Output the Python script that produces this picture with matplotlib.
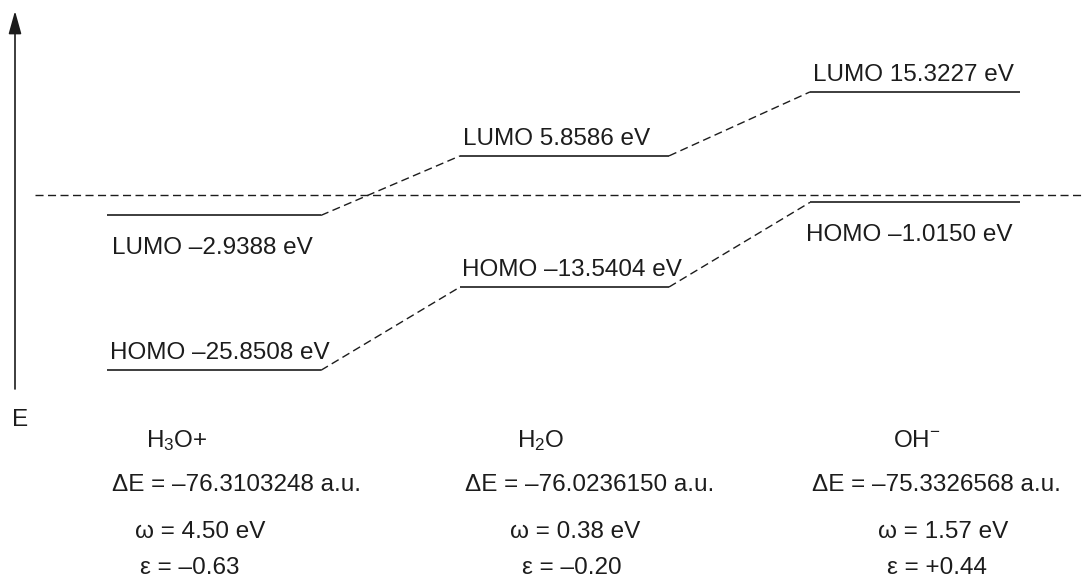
import matplotlib.pyplot as plt

plt.rcParams['font.family'] = ['Liberation Sans', 'DejaVu Sans']
plt.rcParams['mathtext.fontset'] = 'custom'
plt.rcParams['mathtext.rm'] = 'Liberation Sans'
plt.rcParams['mathtext.it'] = 'Liberation Sans'


# Frontier orbital energies (eV) and descriptors for each species

species = ['H$_3$O+', 'H$_2$O', 'OH$^{-}$']
lumo = [-2.9388, 5.8586, 15.3227]
homo = [-25.8508, -13.5404, -1.0150]
delta_e = [-76.3103248, -76.0236150, -75.3326568]
omega = [4.50, 0.38, 1.57]
epsilon = [-0.63, -0.20, 0.44]


def dash(s):
    return s.replace('-', '\u2013')


# Page layout in pixels (figure is 1085 x 583 at 100 dpi)

W, H = 1085, 583
zero_px = 195.5      # where E = 0 sits
px_per_ev = 6.76
x0 = [107, 460, 810]
x1 = [321, 669, 1020]
lumo_above = [False, True, True]
homo_above = [True, True, False]
lumo_lx = [112, 463, 813]
homo_lx = [110, 462, 806]

fs = 17.5
ink = '#1c1c1c'
dashes = (0, (5.8, 3.2))

fig = plt.figure(figsize=(W / 100, H / 100), dpi=100)

# energy axes: x in page pixels, y in eV
ax = fig.add_axes([0, 0, 1, 1])
ax.set_xlim(0, W)
ax.set_ylim(-(H - zero_px) / px_per_ev, zero_px / px_per_ev)
ax.axis('off')

# layout axes: both in page pixels
lay = fig.add_axes([0, 0, 1, 1], zorder=-1)
lay.set_xlim(0, W)
lay.set_ylim(H, 0)
lay.axis('off')


# Energy arrow and zero reference

lay.annotate('', xy=(15, 11), xytext=(15, 389),
             arrowprops=dict(arrowstyle='-|>,head_length=1.0,head_width=0.28',
                             lw=1.2, color=ink, mutation_scale=14,
                             shrinkA=0, shrinkB=0))
lay.text(12, 426, 'E', fontsize=fs, color=ink, ha='left', va='baseline')

ax.plot([35, W], [0, 0], color=ink, lw=1.0, linestyle=dashes)


# Orbital levels, labels and correlation lines

for levels, above, lx, name in [(lumo, lumo_above, lumo_lx, 'LUMO'),
                                (homo, homo_above, homo_lx, 'HOMO')]:
    for i, e in enumerate(levels):
        ax.plot([x0[i], x1[i]], [e, e], color=ink, lw=1.2, solid_capstyle='butt')
        off = 8 if above[i] else -28
        ax.annotate(dash(f'{name} {e:.4f} eV'), xy=(lx[i], e),
                    xytext=(0, off), textcoords='offset points',
                    fontsize=fs, color=ink, ha='left', va='baseline')
    for i in range(len(levels) - 1):
        ax.plot([x1[i], x0[i + 1]], [levels[i], levels[i + 1]],
                color=ink, lw=1.0, linestyle=dashes)


# Descriptor table under the diagram

name_x = [146, 517, 893]
de_x = [112, 465, 812]
om_x = [135, 510, 878]
ep_x = [140, 522, 887]

for i in range(len(species)):
    lay.text(name_x[i], 447, species[i], fontsize=fs, color=ink, va='baseline')
    lay.text(de_x[i], 491, dash(f'\u0394E = {delta_e[i]:.7f} a.u.'),
             fontsize=fs, color=ink, va='baseline')
    lay.text(om_x[i], 538, f'\u03c9 = {omega[i]:.2f} eV',
             fontsize=fs, color=ink, va='baseline')
    lay.text(ep_x[i], 574, dash(f'\u03b5 = {epsilon[i]:+.2f}'),
             fontsize=fs, color=ink, va='baseline')

fig.savefig('out.png', dpi=100, facecolor='white')
